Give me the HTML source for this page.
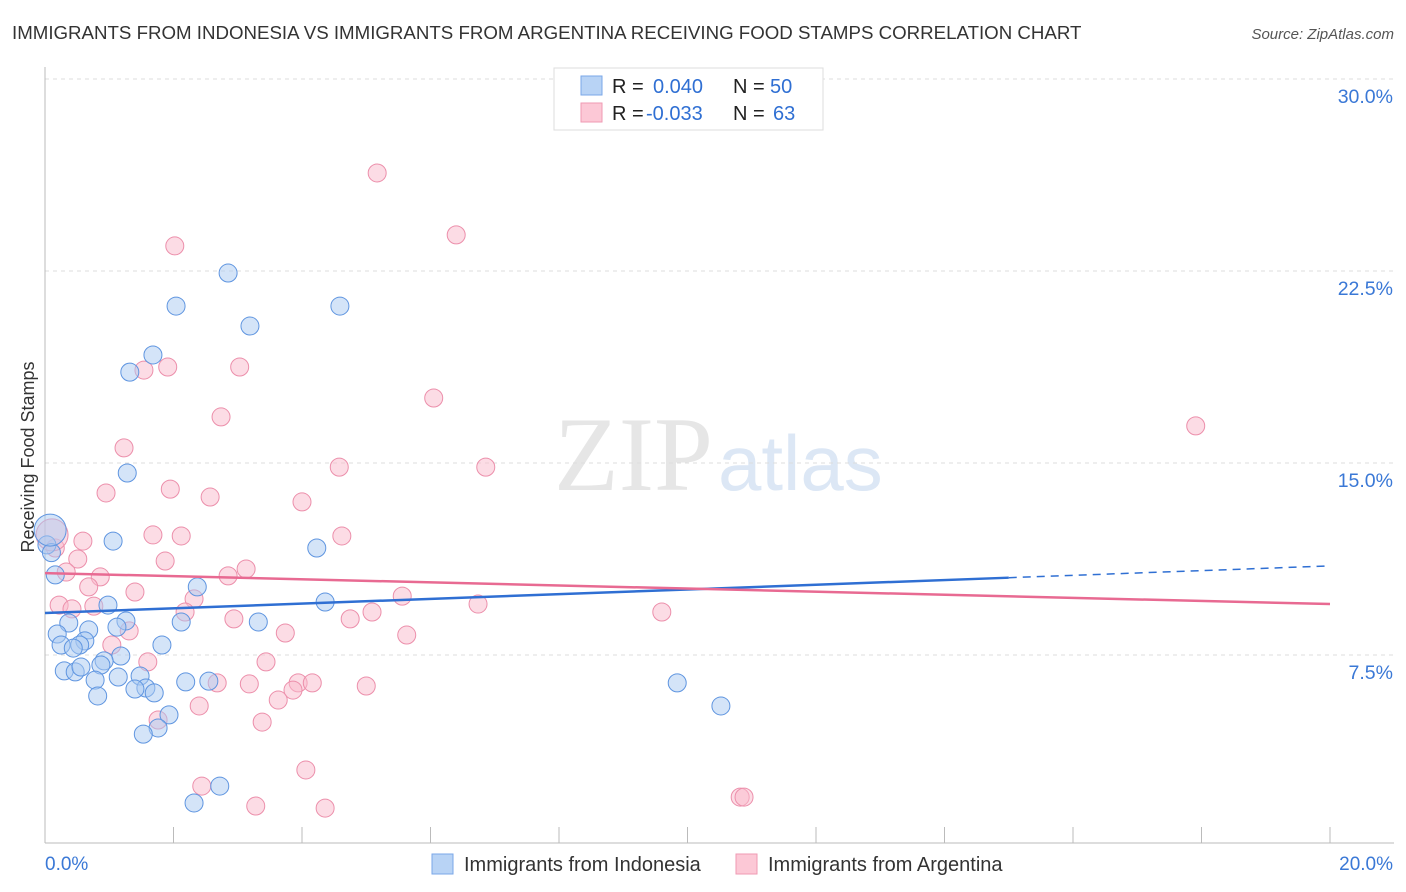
<!DOCTYPE html>
<html><head><meta charset="utf-8">
<style>
body{margin:0;background:#fff;font-family:"Liberation Sans",sans-serif;}
#wrap{position:relative;width:1406px;height:892px;overflow:hidden;}
</style></head>
<body>
<div id="wrap">
<svg id="chart" width="1406" height="892" xmlns="http://www.w3.org/2000/svg">
<text x="12" y="39" font-size="18.7" fill="#333">IMMIGRANTS FROM INDONESIA VS IMMIGRANTS FROM ARGENTINA RECEIVING FOOD STAMPS CORRELATION CHART</text>
<text x="1394" y="39" font-size="15" fill="#555" font-style="italic" text-anchor="end">Source: ZipAtlas.com</text>
<text x="713" y="490" font-size="106" fill="#e6e6e6" text-anchor="end" font-family="Liberation Serif,serif">ZIP</text>
<text x="718" y="490" font-size="78" fill="#dce7f5">atlas</text>
<g id="grid"></g>
<g id="axes"></g>
<g id="marks"></g>
<text transform="translate(34,457) rotate(-90)" font-size="18" fill="#333" text-anchor="middle">Receiving Food Stamps</text>
<g>
<rect x="554" y="68" width="269" height="62" fill="#fff" stroke="#ddd"/>
<rect x="581" y="76" width="21" height="19" fill="#b8d3f5" stroke="#7aa7e8"/>
<rect x="581" y="103" width="21" height="19" fill="#fcc8d6" stroke="#ef9ab3"/>
<text x="612" y="93" font-size="20" fill="#222">R = <tspan fill="#2f6fd3" x="653">0.040</tspan><tspan x="733" fill="#222">N = </tspan><tspan fill="#2f6fd3" x="770">50</tspan></text>
<text x="612" y="120" font-size="20" fill="#222">R = <tspan fill="#2f6fd3" x="646">-0.033</tspan><tspan x="733" fill="#222">N = </tspan><tspan fill="#2f6fd3" x="773">63</tspan></text>
</g>
<g>
<rect x="432" y="854" width="21" height="20" fill="#b8d3f5" stroke="#7aa7e8"/>
<text x="464" y="871" font-size="20" fill="#333">Immigrants from Indonesia</text>
<rect x="736" y="854" width="21" height="20" fill="#fcc8d6" stroke="#ef9ab3"/>
<text x="768" y="871" font-size="20" fill="#333">Immigrants from Argentina</text>
</g>
</svg>
</div>
<script>
const yTicks=[7.5,15,22.5,30];
const yTickLabels=["7.5%","15.0%","22.5%","30.0%"];
const xTickLabels=["0.0%","20.0%"];
const indoX=[2.85,2.04,3.19,4.59,1.68,1.32,1.28,1.06,4.23,0.16,2.37,0.98,4.36,1.26,2.12,3.32,0.37,0.19,1.12,0.68,0.62,0.25,0.54,1.82,0.44,1.18,0.92,1.48,0.30,0.47,0.56,0.87,1.14,0.78,2.19,2.55,1.57,1.40,1.70,0.82,1.93,1.76,1.53,9.84,10.52,2.32,2.72,0.03,0.10,0.08];
const indoY=[22.42,21.13,20.35,21.13,19.22,18.55,14.61,11.95,11.68,10.63,10.16,9.45,9.57,8.83,8.79,8.79,8.75,8.32,8.59,8.48,8.05,7.89,7.89,7.89,7.77,7.46,7.27,6.68,6.88,6.84,7.03,7.11,6.64,6.52,6.45,6.48,6.21,6.17,6.02,5.90,5.16,4.65,4.41,6.41,5.51,1.72,2.38,11.8,11.5,12.38];
const argX=[5.17,6.40,2.02,1.54,1.91,3.03,6.05,2.74,17.91,1.23,4.58,6.86,0.95,1.95,2.57,4.00,1.68,2.12,4.62,0.59,0.16,0.51,1.87,0.33,3.13,0.86,2.85,0.68,1.40,2.32,5.56,0.22,0.42,0.76,2.18,6.74,5.09,9.60,2.94,4.75,1.31,3.74,5.63,1.04,1.60,3.44,2.68,3.18,3.94,4.16,5.00,3.86,3.63,2.40,1.76,3.38,2.44,4.06,3.28,4.36,10.82,10.88,0.11];
const argY=[26.33,23.91,23.48,18.63,18.75,18.75,17.54,16.80,16.45,15.59,14.84,14.84,13.83,13.98,13.67,13.48,12.19,12.15,12.15,11.95,11.68,11.25,11.17,10.74,10.86,10.55,10.59,10.16,9.96,9.69,9.80,9.45,9.30,9.41,9.18,9.49,9.18,9.18,8.91,8.91,8.44,8.36,8.28,7.89,7.23,7.23,6.41,6.37,6.41,6.41,6.29,6.13,5.74,5.51,4.96,4.88,2.38,3.01,1.60,1.52,1.95,1.95,12.19];
const indoTrend=[9.14,10.98];
const argTrend=[10.70,9.49];
const solidEnd=15.0;

const NS="http://www.w3.org/2000/svg";
const X0=45,X1=1330,Y0=847,PPY=25.6;
const xs=v=>X0+(v/20)*(X1-X0);
const ys=v=>Y0-v*PPY;
function mk(tag,attrs,parent){const e=document.createElementNS(NS,tag);for(const k in attrs)e.setAttribute(k,attrs[k]);parent.appendChild(e);return e;}
const grid=document.getElementById('grid'),axes=document.getElementById('axes'),marks=document.getElementById('marks');
yTicks.forEach((t,i)=>{
 const l=mk('line',{x1:X0,x2:1394,y1:ys(t),y2:ys(t),stroke:'#ddd','stroke-dasharray':'4,4'},grid);
 
 
 const tx=mk('text',{x:1393,y:ys(t)+24,'font-size':19.5,fill:'#3a78d6','text-anchor':'end'},axes);
 tx.textContent=yTickLabels[i];
 
 
});
const ya=mk('line',{x1:X0,x2:X0,y1:67,y2:843,stroke:'#bbb'},axes);


const xa=mk('line',{x1:X0,x2:1394,y1:843,y2:843,stroke:'#bbb'},axes);


for(let i=0;i<=10;i++){
 const t=mk('line',{x1:xs(i*2),x2:xs(i*2),y1:827,y2:843,stroke:'#bbb'},axes);
 
 
}
[[0,'start',45],[20,'end',1393]].forEach((d,i)=>{
 const tx=mk('text',{x:d[2],y:870,'font-size':19,fill:'#3a78d6','text-anchor':d[1]},axes);
 tx.textContent=xTickLabels[i];
 
 
});
function dots(X,Y,fill,stroke,name){
 X.forEach((x,i)=>{
  const big=(x<0.2&&Y[i]>12);
  const c=mk('circle',{cx:xs(x),cy:ys(Y[i]),r:big?16:9,fill:fill,'fill-opacity':0.5,stroke:stroke,'stroke-width':1},marks);
  
  
 });
}
dots(argX,argY,'#f9b9cb','#ec8fab','point-argentina');
dots(indoX,indoY,'#a9c9f2','#5f95e0','point-indonesia');
const ti=v=>indoTrend[0]+(indoTrend[1]-indoTrend[0])*v/20;
const ta=v=>argTrend[0]+(argTrend[1]-argTrend[0])*v/20;
const l1=mk('line',{x1:xs(0),y1:ys(ti(0)),x2:xs(solidEnd),y2:ys(ti(solidEnd)),stroke:'#2f6fd3','stroke-width':2.5},marks);


const l2=mk('line',{x1:xs(solidEnd),y1:ys(ti(solidEnd)),x2:xs(20),y2:ys(ti(20)),stroke:'#2f6fd3','stroke-width':1.5,'stroke-dasharray':'8,6'},marks);


const l3=mk('line',{x1:xs(0),y1:ys(ta(0)),x2:xs(20),y2:ys(ta(20)),stroke:'#e86a92','stroke-width':2.5},marks);


</script>
</body></html>
